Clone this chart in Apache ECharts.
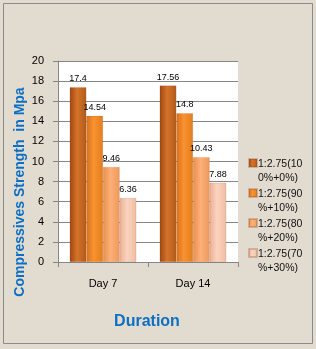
<!DOCTYPE html>
<html><head><meta charset="utf-8">
<script src="https://cdn.jsdelivr.net/npm/echarts@6/dist/echarts.min.js"></script>
<style>html,body{margin:0;padding:0;background:#e2dbcf}#c{width:316px;height:349px}</style>
</head><body><div id="c"></div>
<script>
const categories = ['Day 7', 'Day 14'];
const seriesNames = ['1:2.75(100%+0%)', '1:2.75(90%+10%)', '1:2.75(80%+20%)', '1:2.75(70%+30%)'];
const s1 = [17.4, 17.56];
const s2 = [14.54, 14.8];
const s3 = [9.46, 10.43];
const s4 = [6.36, 7.88];
const yTicks = {min: 0, max: 20, interval: 2};

const seriesData = [s1, s2, s3, s4];
const grads = [
  ['#9e4812', '#d4732a', '#b05a1a'],
  ['#d8701e', '#f9922f', '#e27e1e'],
  ['#ea8e4c', '#fbb079', '#ef985a'],
  ['#eab096', '#fbd3be', '#efbca2']
];
function grad(c) {
  return new echarts.graphic.LinearGradient(0, 0, 1, 0, [
    {offset: 0, color: c[0]}, {offset: 0.45, color: c[1]}, {offset: 1, color: c[2]}
  ]);
}
const chart = echarts.init(document.getElementById('c'), null, {renderer: 'canvas'});
const font = 'Liberation Sans';
chart.setOption({
  backgroundColor: '#e2dbcf',
  animation: false,
  textStyle: {fontFamily: font},
  grid: {left: 58, top: 61, width: 180, height: 201, show: true, backgroundColor: '#ffffff', borderWidth: 0},
  legend: {
    orient: 'vertical', left: 243, top: 152, itemWidth: 8, itemHeight: 24, itemGap: 2,
    icon: 'path://M0,0L10,0L10,10L0,10Z M0,30L0.01,30.01',
    textStyle: {fontSize: 10.5, lineHeight: 14, color: '#111', fontFamily: font, padding: [0, 0, 0, -4]},
    formatter: n => n.slice(0, 9) + '\n' + n.slice(9),
    data: seriesNames
  },
  xAxis: {
    type: 'category', data: categories,
    axisLine: {lineStyle: {color: '#868686'}},
    axisTick: {show: true, length: 5, lineStyle: {color: '#868686'}},
    axisLabel: {fontSize: 11, color: '#000', margin: 16, fontFamily: font}
  },
  yAxis: {
    type: 'value', min: yTicks.min, max: yTicks.max, interval: yTicks.interval,
    axisLine: {show: true, lineStyle: {color: '#868686'}},
    axisTick: {show: true, length: 5, lineStyle: {color: '#868686'}},
    splitLine: {lineStyle: {color: '#868686', width: 1}},
    axisLabel: {fontSize: 11, color: '#000', margin: 14, fontFamily: font}
  },
  series: seriesNames.map((name, i) => ({
    type: 'bar', name: name, data: seriesData[i],
    barGap: '0%', barCategoryGap: '26%',
    itemStyle: {color: grad(grads[i]), borderColor: 'rgba(120,60,20,0.25)', borderWidth: 0.5},
    label: {show: true, position: 'top', distance: 4, fontSize: 9, color: '#000', fontFamily: font}
  })),
  graphic: [
    {type: 'rect', shape: {x: 3.5, y: 3.5, width: 309, height: 340}, style: {fill: 'none', stroke: '#8a8a8a', lineWidth: 1}, silent: true},
    {type: 'text', x: 20, y: 192, rotation: Math.PI / 2,
     style: {text: 'Compressives Strength  in Mpa', fill: '#0b6fc4', font: 'bold 14px "Liberation Sans"', align: 'center', verticalAlign: 'middle'}},
    {type: 'text', x: 147, y: 322,
     style: {text: 'Duration', fill: '#0b6fc4', font: 'bold 16px "Liberation Sans"', align: 'center', verticalAlign: 'middle'}}
  ]
});
</script></body></html>
